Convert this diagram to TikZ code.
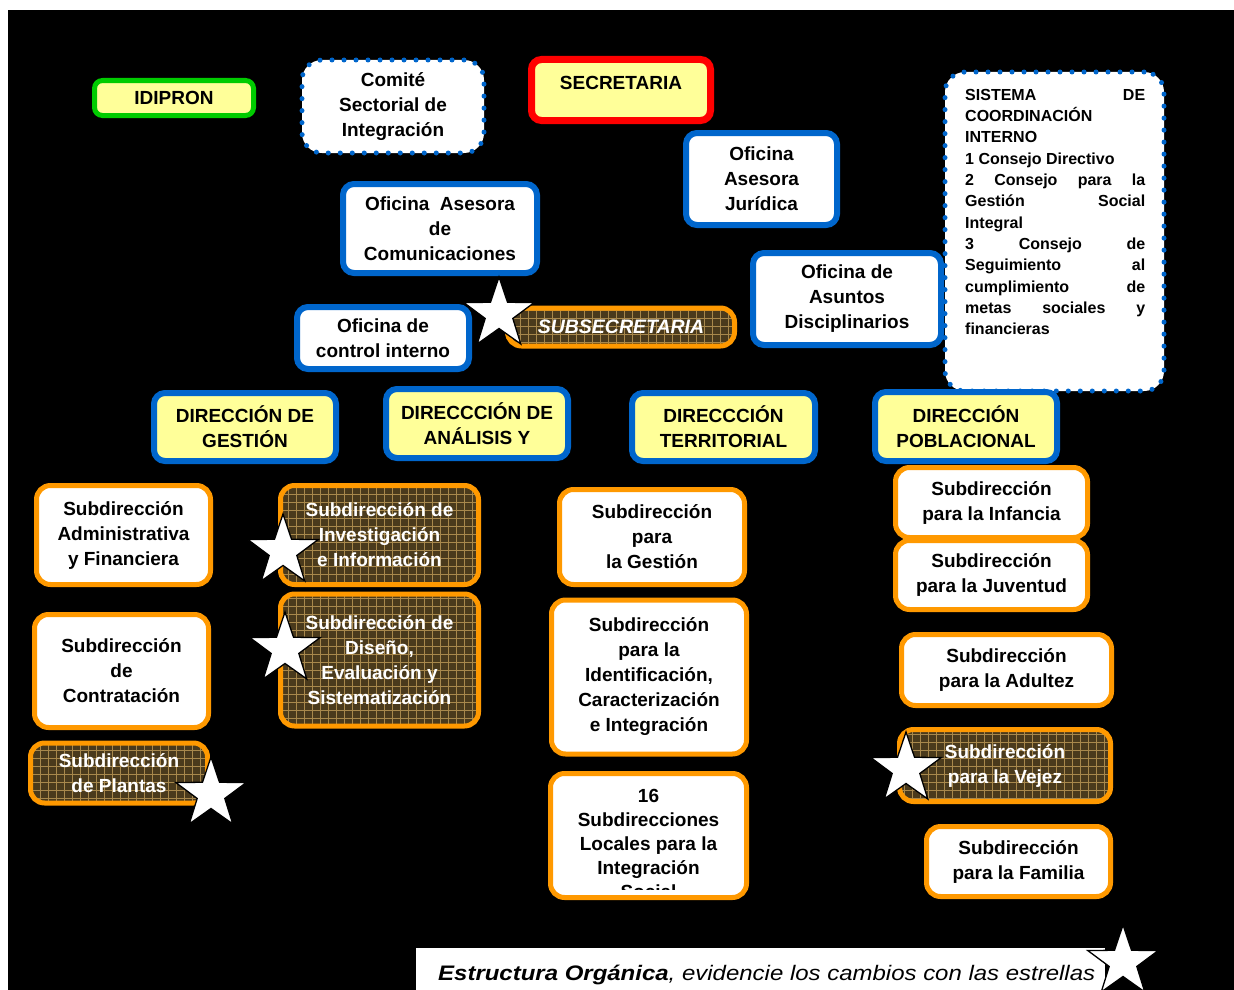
\documentclass[tikz,border=0pt]{standalone}
\usepackage{fontspec}
\setmainfont{Liberation Sans}
\usetikzlibrary{patterns.meta,shapes.geometric}
\definecolor{bblue}{HTML}{0066CC}
\definecolor{lyel}{HTML}{FFFF99}
\definecolor{orng}{HTML}{FF9900}
\definecolor{grn}{HTML}{00CC00}
\definecolor{redb}{HTML}{FF0000}
\definecolor{patbg}{HTML}{4A3A1C}
\definecolor{gridc}{HTML}{A8884C}
\tikzset{
  txt/.style={font=\bfseries\fontsize{19}{25}\selectfont, align=center, inner sep=0pt},
  bluew/.style={txt, draw=bblue, line width=6pt, fill=white, rounded corners=11pt},
  bluey/.style={txt, draw=bblue, line width=6pt, fill=lyel, rounded corners=11pt},
  obox/.style={txt, draw=orng, line width=5pt, fill=white, rounded corners=14pt},
  pbox/.style={txt, text=white, draw=orng, line width=5pt, rounded corners=14pt,
    preaction={fill=patbg},
    preaction={pattern={Lines[distance=8pt,line width=0.7pt]}, pattern color=gridc},
    preaction={pattern={Lines[angle=90,distance=8pt,line width=0.7pt]}, pattern color=gridc}},
  dotbox/.style={txt, draw=bblue, line width=5pt, dash pattern=on 0pt off 12pt,
    line cap=round, fill=white, rounded corners=20pt},
  starw/.style={star, star points=5, star point ratio=2.55, minimum size=74pt,
    inner sep=0pt, fill=white, draw=black, line width=1.3pt},
}
\begin{document}
\begin{tikzpicture}[x=1pt,y=-1pt]
\useasboundingbox (0,0) rectangle (1234,990);
\fill[white] (0,0) rectangle (1234,990);
\fill[black] (8,10) rectangle (1234,990);

% top row
\node[txt, draw=grn, line width=5pt, fill=lyel, rounded corners=8pt,
  minimum width=159pt, minimum height=35pt] (idi) at (174,98) {IDIPRON};
\node[dotbox, minimum width=182pt, minimum height=93pt] (com) at (393,106.5)
  {Comité\\Sectorial de\\Integración};
\node[txt, draw=redb, line width=7pt, fill=lyel, rounded corners=10pt,
  minimum width=179pt, minimum height=61pt] (sec) at (621,90) {};
\node[txt] (sect) at (621,83) {SECRETARIA};

\node[bluew, minimum width=151pt, minimum height=92pt] (jur) at (761.5,179)
  {Oficina\\Asesora\\Jurídica};
\node[bluew, minimum width=194pt, minimum height=89pt] (comu) at (440,228.5)
  {Oficina\ \ Asesora\\de\\Comunicaciones};
\node[bluew, minimum width=188pt, minimum height=92pt] (dis) at (847,299)
  {Oficina de\\Asuntos\\Disciplinarios};

% sistema
\node[dotbox, minimum width=219pt, minimum height=319pt] (sis) at (1054.5,231.5) {};
\node[font=\bfseries\fontsize{16}{21.3}\selectfont, align=left, inner sep=0pt,
  anchor=north west] (sist) at (965,89)
  {\makebox[180pt][s]{SISTEMA DE}\\
   COORDINACIÓN\\
   INTERNO\\
   1 Consejo Directivo\\
   \makebox[180pt][s]{2 Consejo para la}\\
   \makebox[180pt][s]{Gestión Social}\\
   Integral\\
   \makebox[180pt][s]{3 Consejo de}\\
   \makebox[180pt][s]{Seguimiento al}\\
   \makebox[180pt][s]{cumplimiento de}\\
   \makebox[180pt][s]{metas sociales y}\\
   financieras};

\node[bluew, minimum width=172pt, minimum height=62pt] (ci) at (383,338)
  {Oficina de\\control interno};
\node[pbox, minimum width=227pt, minimum height=38pt,
  font=\bfseries\itshape\fontsize{19.5}{25}\selectfont] (sub) at (621,327) {SUBSECRETARIA};

% direcciones
\node[bluey, minimum width=182pt, minimum height=68pt] (dg) at (245,427)
  {DIRECCIÓN DE\\GESTIÓN};
\node[bluey, minimum width=182pt, minimum height=69pt] (da) at (477,423.5)
  {DIRECCCIÓN DE\\ANÁLISIS Y};
\node[bluey, minimum width=183pt, minimum height=68pt] (dt) at (723.5,427)
  {DIRECCCIÓN\\TERRITORIAL};
\node[bluey, minimum width=182pt, minimum height=69pt] (dp) at (966,426.5)
  {DIRECCIÓN\\POBLACIONAL};

% subdirecciones
\node[obox, minimum width=174pt, minimum height=99pt] (saf) at (123.5,535)
  {Subdirección\\Administrativa\\y Financiera};
\node[pbox, minimum width=198pt, minimum height=99pt] (sii) at (379.5,535)
  {Subdirección de\\Investigación\\e Información};
\node[obox, minimum width=185pt, minimum height=95pt] (spg) at (652,537)
  {Subdirección\\para\\la Gestión};
\node[obox, minimum width=192pt, minimum height=70pt] (sinf) at (991.5,502.5)
  {Subdirección\\para la Infancia};
\node[obox, minimum width=192pt, minimum height=69pt] (sjuv) at (991.5,575)
  {Subdirección\\para la Juventud};
\node[obox, minimum width=174pt, minimum height=113pt] (scon) at (121.5,671)
  {Subdirección\\de\\Contratación};
\node[pbox, minimum width=198pt, minimum height=132pt] (sdis) at (379.5,660)
  {Subdirección de\\Diseño,\\Evaluación y\\Sistematización};
\node[obox, minimum width=195pt, minimum height=154pt] (side) at (649,677)
  {Subdirección\\para la\\Identificación,\\Caracterización\\e Integración};
\node[obox, minimum width=210pt, minimum height=71pt] (sadu) at (1006.5,670)
  {Subdirección\\para la Adultez};
\node[pbox, minimum width=177pt, minimum height=60pt] (spla) at (119,773)
  {Subdirección\\de Plantas};
\node[pbox, minimum width=211pt, minimum height=72pt] (svej) at (1005,765.5)
  {Subdirección\\para la Vejez};
\node[obox, minimum width=196pt, minimum height=124pt] (sloc) at (648.5,835.5) {};
\begin{scope}
  \clip (553,776) rectangle (744,889);
  \node[txt, font=\bfseries\fontsize{19}{24}\selectfont, anchor=north] (sloct) at (648.5,789)
    {16\\Subdirecciones\\Locales para la\\Integración\\Social};
\end{scope}
\node[obox, minimum width=184pt, minimum height=70pt] (sfam) at (1018.5,861.5)
  {Subdirección\\para la Familia};

% caption
\fill[white] (416,948) rectangle (1105,990);
\node[anchor=base west, inner sep=0pt] (cap) at (438,980)
  {\resizebox{657pt}{\height}{\fontsize{21}{25}\selectfont\itshape
   \textbf{Estructura Orgánica}, evidencie los cambios con las estrellas}};

% stars
\node[starw] (st1) at (499,314) {};
\node[starw] (st2) at (283,551) {};
\node[starw] (st3) at (285,649) {};
\node[starw] (st4) at (211,794) {};
\node[starw] (st5) at (906,769) {};
\node[starw] (st6) at (1123,962) {};
\end{tikzpicture}
\end{document}
